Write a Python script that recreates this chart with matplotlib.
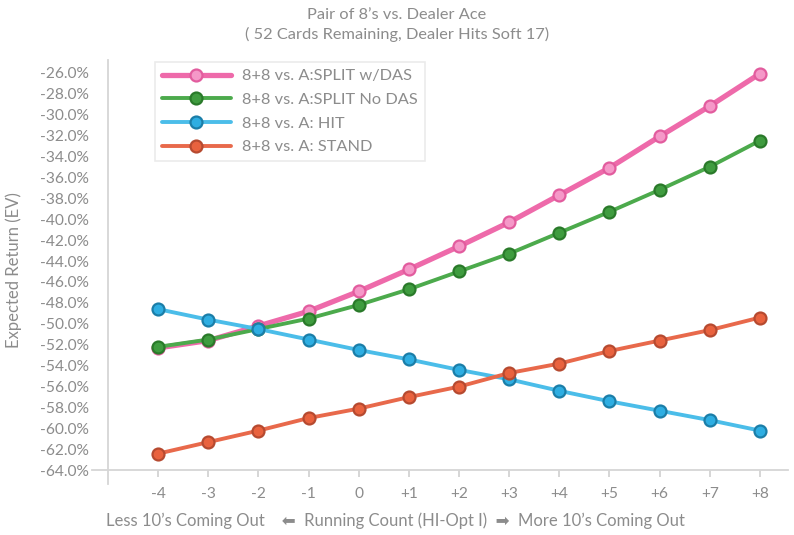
import matplotlib.pyplot as plt

counts = [-4, -3, -2, -1, 0, 1, 2, 3, 4, 5, 6, 7, 8]
count_labels = ['-4', '-3', '-2', '-1', '0', '+1', '+2', '+3', '+4', '+5', '+6', '+7', '+8']

split_das = [-52.3, -51.6, -50.2, -48.8, -46.9, -44.8, -42.6, -40.3, -37.7, -35.1, -32.1, -29.2, -26.1]
split_nodas = [-52.2, -51.5, -50.5, -49.5, -48.2, -46.7, -45.0, -43.3, -41.3, -39.3, -37.2, -35.0, -32.5]
hit = [-48.6, -49.6, -50.5, -51.5, -52.5, -53.4, -54.4, -55.3, -56.4, -57.4, -58.3, -59.2, -60.2]
stand = [-62.4, -61.3, -60.2, -59.0, -58.1, -57.0, -56.0, -54.7, -53.8, -52.6, -51.6, -50.6, -49.4]

series_names = ['8+8 vs. A:SPLIT w/DAS', '8+8 vs. A:SPLIT No DAS', '8+8 vs. A: HIT', '8+8 vs. A: STAND']
y_ticks = list(range(-64, -25, 2))

plt.rcParams['font.family'] = ['Lato', 'DejaVu Sans']
gray = '#8c8c8c'

fig = plt.figure(figsize=(7.94, 5.35), dpi=100)
ax = fig.add_axes([108 / 794, 1 - 484 / 535, (788 - 108) / 794, (484 - 60) / 535])

styles = [
    # line, face, edge, width
    ('#ee6aaa', '#f598c8', '#e25c9e', 3.8),
    ('#4caa4c', '#3f9c3f', '#2a7a2a', 2.8),
    ('#4bbde9', '#2eaee2', '#1b7ea8', 2.8),
    ('#e8694b', '#e9623e', '#b64a30', 2.8),
]
for ys, name, (lc, fc, ec, lw) in zip([split_das, split_nodas, hit, stand], series_names, styles):
    ax.plot(counts, ys, color=lc, lw=lw, marker='o', markersize=8.6,
            markerfacecolor=fc, markeredgecolor=ec, markeredgewidth=1.6,
            label=name, solid_capstyle='round')

ax.set_xlim(-5, 8.56)
ax.set_ylim(-65.3, -24.8)
ax.set_xticks(counts)
ax.set_xticklabels(count_labels)
ax.set_yticks(y_ticks)
ax.set_yticklabels([f'{v:.1f}%' for v in y_ticks])

for s in ['top', 'right']:
    ax.spines[s].set_visible(False)
ax.spines['bottom'].set_position(('data', -64))
ax.spines['bottom'].set_bounds(-5.32, 8.56)
for s in ['bottom', 'left']:
    ax.spines[s].set_color('#d6d6d6')
    ax.spines[s].set_linewidth(1.3)

ax.tick_params(axis='y', length=0, pad=14, labelsize=11.2, labelcolor=gray)
ax.tick_params(axis='x', length=5, width=1.2, color='#d0d0d0', pad=7, labelsize=11.2, labelcolor=gray)

fig.text(0.5, 1 - 15 / 535, "Pair of 8\u2019s vs. Dealer Ace", ha='center', va='center', fontsize=11.8, color=gray)
fig.text(0.5, 1 - 34 / 535, "( 52 Cards Remaining, Dealer Hits Soft 17)", ha='center', va='center', fontsize=11.8, color=gray)
fig.text(395 / 794, 1 - 521 / 535,
         "Less 10\u2019s Coming Out    \u2b05  Running Count (HI-Opt I)  \u27a1  More 10\u2019s Coming Out",
         ha='center', va='center', fontsize=12, color=gray)
fig.text(14 / 794, 1 - 270 / 535, "Expected Return (EV)", rotation=90, ha='center', va='center',
         fontsize=12, color=gray)

leg = ax.legend(loc='upper left', bbox_to_anchor=((155 - 108) / 680, 1 - (62 - 60) / 424),
                frameon=True, fancybox=False, fontsize=11.8, handlelength=4.2,
                labelspacing=0.56, borderpad=0.42, handletextpad=0.7, borderaxespad=0)
leg.get_frame().set_edgecolor('#e6e6e6')
leg.get_frame().set_linewidth(1.2)
for t in leg.get_texts():
    t.set_color(gray)

fig.savefig('out.png', dpi=100)
